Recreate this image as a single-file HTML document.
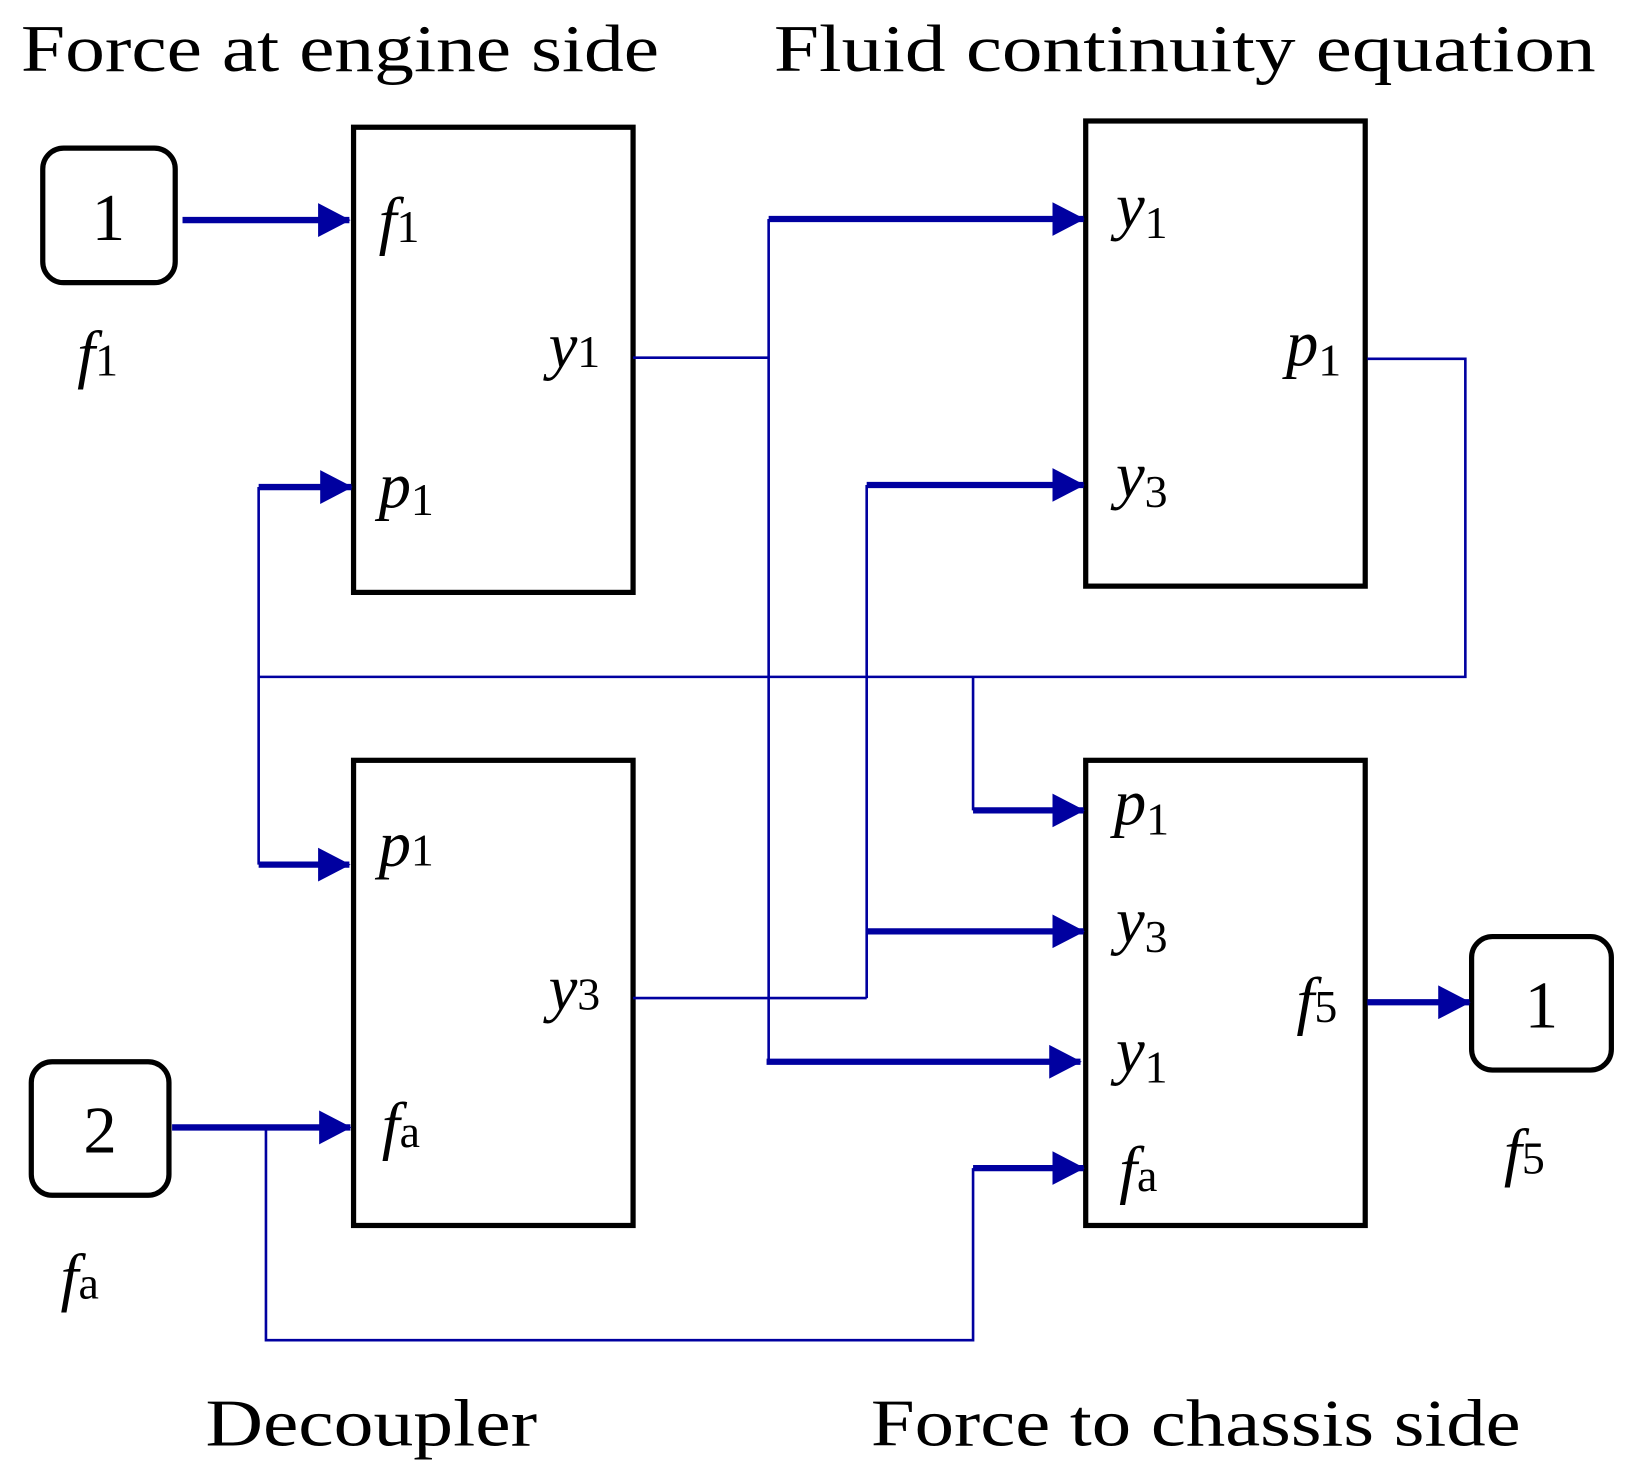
<!DOCTYPE html>
<html><head><meta charset="utf-8"><style>
html,body{margin:0;padding:0;background:#fff;}
svg{display:block;}
.t{font-family:"Liberation Serif",serif;font-size:64px;fill:#000;}
.v{font-family:"Liberation Serif",serif;font-style:italic;font-size:62px;fill:#000;}
.s{font-style:normal;font-size:44px;}
.n{font-family:"Liberation Serif",serif;font-size:64px;fill:#000;}
.th{stroke:#0000a0;stroke-width:6;fill:none;}
.tn{stroke:#0000a0;stroke-width:2.5;fill:none;}
.bx{stroke:#000;stroke-width:5;fill:none;}
</style></head><body>
<svg width="1627" height="1481" viewBox="0 0 1560 1420" preserveAspectRatio="none">
<defs><marker id="a" markerWidth="6" markerHeight="6" refX="5" refY="3" orient="auto" markerUnits="strokeWidth"><path d="M0,0.3 L5.2,3 L0,5.7 z" fill="#0000a0"/></marker></defs>
<text class="t" x="20" y="68" textLength="612" lengthAdjust="spacingAndGlyphs">Force at engine side</text>
<text class="t" x="742" y="68" textLength="788" lengthAdjust="spacingAndGlyphs">Fluid continuity equation</text>
<text class="t" x="197" y="1386" textLength="318" lengthAdjust="spacingAndGlyphs">Decoupler</text>
<text class="t" x="835" y="1386" textLength="623" lengthAdjust="spacingAndGlyphs">Force to chassis side</text>

<rect class="bx" x="339" y="122" width="268" height="446"/>
<rect class="bx" x="1041" y="116" width="268" height="446"/>
<rect class="bx" x="339" y="729" width="268" height="446"/>
<rect class="bx" x="1041" y="729" width="268" height="446"/>

<rect class="bx" x="41" y="142" width="127" height="129" rx="20"/>
<text class="n" x="104" y="230" text-anchor="middle">1</text>
<text class="v" x="74" y="360">f<tspan class="s">1</tspan></text>
<rect class="bx" x="30" y="1018" width="132" height="128" rx="20"/>
<text class="n" x="96" y="1105" text-anchor="middle">2</text>
<text class="v" x="58" y="1245">f<tspan class="s">a</tspan></text>
<rect class="bx" x="1411" y="898" width="134" height="128" rx="20"/>
<text class="n" x="1478" y="985" text-anchor="middle">1</text>
<text class="v" x="1442" y="1125">f<tspan class="s">5</tspan></text>

<text class="v" x="363" y="232">f<tspan class="s">1</tspan></text>
<text class="v" x="526" y="352">y<tspan class="s">1</tspan></text>
<text class="v" x="363" y="486">p<tspan class="s" dy="8">1</tspan></text>
<text class="v" x="1070" y="218">y<tspan class="s" dy="10">1</tspan></text>
<text class="v" x="1233" y="350">p<tspan class="s" dy="10">1</tspan></text>
<text class="v" x="1070" y="476">y<tspan class="s" dy="10">3</tspan></text>
<text class="v" x="1068" y="790">p<tspan class="s" dy="10">1</tspan></text>
<text class="v" x="363" y="830">p<tspan class="s">1</tspan></text>
<text class="v" x="526" y="968">y<tspan class="s">3</tspan></text>
<text class="v" x="366" y="1100">f<tspan class="s">a</tspan></text>
<text class="v" x="1070" y="903">y<tspan class="s" dy="10">3</tspan></text>
<text class="v" x="1070" y="1028">y<tspan class="s" dy="10">1</tspan></text>
<text class="v" x="1073" y="1142">f<tspan class="s">a</tspan></text>
<text class="v" x="1243" y="980">f<tspan class="s">5</tspan></text>

<path class="tn" d="M248,467 V829 M248,649 H1405 V344 H1311 M607,343 H737 M737,210 V1018 M933,649 V777 M607,957 H831 M831,465 V957 M255,1081 V1285 H933 V1120"/>
<path class="th" marker-end="url(#a)" d="M175,211 H335"/>
<path class="th" marker-end="url(#a)" d="M248,467 H337"/>
<path class="th" marker-end="url(#a)" d="M248,829 H335"/>
<path class="th" marker-end="url(#a)" d="M737,210 H1039"/>
<path class="th" marker-end="url(#a)" d="M735,1018 H1036"/>
<path class="th" marker-end="url(#a)" d="M933,777 H1039"/>
<path class="th" marker-end="url(#a)" d="M831,465 H1039"/>
<path class="th" marker-end="url(#a)" d="M831,893 H1039"/>
<path class="th" marker-end="url(#a)" d="M165,1081 H336"/>
<path class="th" marker-end="url(#a)" d="M933,1120 H1039"/>
<path class="th" marker-end="url(#a)" d="M1311,961 H1409"/>
</svg>
</body></html>
